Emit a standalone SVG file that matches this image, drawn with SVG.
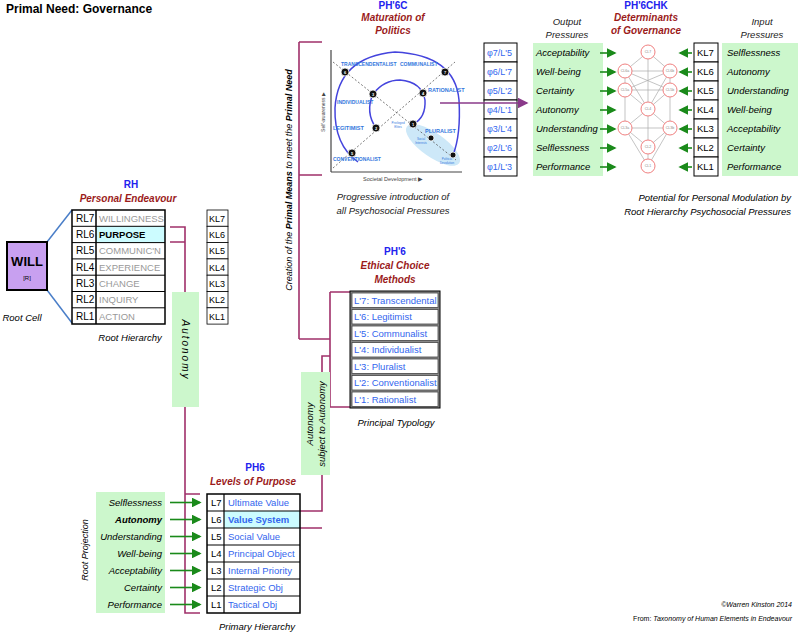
<svg xmlns="http://www.w3.org/2000/svg" width="800" height="639" viewBox="0 0 800 639">
<style>
text{font-family:"Liberation Sans","Noto Sans",sans-serif;}
.t{font-size:10px;fill:#000}
.it{font-size:9.5px;font-style:italic;fill:#000}
.ttl{font-size:10px;font-weight:bold;fill:#2222ee;text-anchor:middle}
.sub{font-size:10px;font-weight:bold;font-style:italic;fill:#9b1b1b;text-anchor:middle}
.cap{font-size:9.5px;font-style:italic;fill:#222;text-anchor:middle}
.grey{font-size:9.5px;fill:#999}
.blue{font-size:9.5px;fill:#3366ee}
.grn{fill:#ccf7cc}
.br{fill:none;stroke:#a0306a;stroke-width:1.6}
.ga{stroke:#1a8a1a;stroke-width:1.6;marker-end:url(#ag)}
.cl{fill:#fff;stroke:#f08080;stroke-width:1}
.cll{font-size:3.5px;fill:#888;text-anchor:middle}
.lat{stroke:#aaa;stroke-width:0.7}
.cb{font-size:5px;fill:#3377dd;font-weight:bold}
</style>
<defs>
<marker id="ag" markerWidth="6" markerHeight="6" refX="5" refY="3" orient="auto"><path d="M0,0 L6,3 L0,6 z" fill="#1a8a1a"/></marker>
<marker id="ap" markerWidth="7" markerHeight="7" refX="6" refY="3.5" orient="auto"><path d="M0,0 L7,3.5 L0,7 z" fill="#8a3a8a"/></marker>
</defs>
<text x="6" y="13" style="font-size:12px;font-weight:bold">Primal Need: Governance</text>

<g id="connectors">
<line x1="47" y1="242" x2="72" y2="210" stroke="#4a7ec8" stroke-width="1.5"/>
<line x1="47" y1="290" x2="72" y2="323" stroke="#4a7ec8" stroke-width="1.5"/>
<path class="br" d="M170,227 H185 V292 M170,242 H185 M185,407 V613 H200 M185,494 H200"/>
<path class="br" d="M300,511 H322 V475 M300,528 H322 M322,372 V356 H330 M330,292 H350 M330,292 V407 H350 M299,339 H330 M299,42 H322 M299,175 H322 M299,42 V339"/>
</g>

<g id="will">
<rect x="7" y="242" width="40" height="48" fill="#c8a0f0" stroke="#000" stroke-width="2"/>
<text x="27" y="266" style="font-size:13px;font-weight:bold" text-anchor="middle">WILL</text>
<text x="27" y="280" style="font-size:6px" text-anchor="middle">[R]</text>
<text x="22" y="321" class="it" text-anchor="middle">Root Cell</text>
</g>

<g id="rh">
<text x="131" y="188" class="ttl">RH</text>
<text x="128" y="202" class="sub">Personal Endeavour</text>
<rect x="96" y="226.3" width="69" height="16.3" fill="#ccfcff"/>
<g fill="none" stroke="#000">
<rect x="72" y="210" width="93" height="114" stroke-width="1.5"/>
<line x1="96" y1="210" x2="96" y2="324" stroke-width="1.5"/>
<path d="M72,226.3H165M72,242.6H165M72,258.9H165M72,275.2H165M72,291.5H165M72,307.8H165"/>
</g>
<g class="t"><text x="76" y="222">RL7</text><text x="76" y="238">RL6</text><text x="76" y="254">RL5</text><text x="76" y="271">RL4</text><text x="76" y="287">RL3</text><text x="76" y="303">RL2</text><text x="76" y="320">RL1</text></g>
<text x="99" y="222" class="grey">WILLINGNESS</text>
<text x="99" y="238" style="font-size:9.5px;font-weight:bold">PURPOSE</text>
<text x="99" y="254" class="grey">COMMUNIC'N</text>
<text x="99" y="271" class="grey">EXPERIENCE</text>
<text x="99" y="287" class="grey">CHANGE</text>
<text x="99" y="303" class="grey">INQUIRY</text>
<text x="99" y="320" class="grey">ACTION</text>
<text x="130" y="341" class="it" text-anchor="middle">Root Hierarchy</text>
</g>

<g id="kl-left">
<g fill="#fff" stroke="#000" stroke-width="0.8">
<rect x="207" y="210" width="21" height="16.3"/><rect x="207" y="226.3" width="21" height="16.3"/><rect x="207" y="242.6" width="21" height="16.3"/><rect x="207" y="258.9" width="21" height="16.3"/><rect x="207" y="275.2" width="21" height="16.3"/><rect x="207" y="291.5" width="21" height="16.3"/><rect x="207" y="307.8" width="21" height="16.3"/>
</g>
<g class="t" style="font-size:9px"><text x="209" y="222">KL7</text><text x="209" y="238">KL6</text><text x="209" y="254">KL5</text><text x="209" y="271">KL4</text><text x="209" y="287">KL3</text><text x="209" y="303">KL2</text><text x="209" y="320">KL1</text></g>
</g>

<g id="autonomy">
<rect x="172" y="292" width="27" height="115" class="grn"/>
<text transform="translate(182,350) rotate(90)" text-anchor="middle" style="font-size:10px;font-style:italic;letter-spacing:2px">Autonomy</text>
</g>

<g id="ph6">
<text x="255" y="471" class="ttl">PH6</text>
<text x="253" y="485" class="sub">Levels of Purpose</text>
<rect x="96" y="492" width="69" height="121" class="grn"/>
<g class="it" text-anchor="end"><text x="162" y="506">Selflessness</text><text x="162" y="523" style="font-weight:bold">Autonomy</text><text x="162" y="540">Understanding</text><text x="162" y="557">Well-being</text><text x="162" y="574">Acceptability</text><text x="162" y="591">Certainty</text><text x="162" y="608">Performance</text></g>
<line x1="170" y1="502.5" x2="200" y2="502.5" class="ga"/>
<line x1="170" y1="519.5" x2="200" y2="519.5" class="ga" stroke-width="2.2"/>
<line x1="170" y1="536.5" x2="200" y2="536.5" class="ga"/>
<line x1="170" y1="553.5" x2="200" y2="553.5" class="ga"/>
<line x1="170" y1="570.5" x2="200" y2="570.5" class="ga"/>
<line x1="170" y1="587.5" x2="200" y2="587.5" class="ga"/>
<line x1="170" y1="604.5" x2="200" y2="604.5" class="ga"/>
<text transform="translate(88,550) rotate(-90)" text-anchor="middle" class="it" style="font-size:9px">Root Projection</text>
<rect x="224" y="511" width="76" height="17" fill="#ccfcff"/>
<g fill="none" stroke="#000">
<rect x="207" y="494" width="93" height="119" stroke-width="1.5"/>
<line x1="224" y1="494" x2="224" y2="613" stroke-width="1.2"/>
<path d="M207,511H300M207,528H300M207,545H300M207,562H300M207,579H300M207,596H300"/>
</g>
<g class="t" style="font-size:9.5px"><text x="211" y="506">L7</text><text x="211" y="523">L6</text><text x="211" y="540">L5</text><text x="211" y="557">L4</text><text x="211" y="574">L3</text><text x="211" y="591">L2</text><text x="211" y="608">L1</text></g>
<g class="blue"><text x="228" y="506">Ultimate Value</text><text x="228" y="523" style="font-weight:bold">Value System</text><text x="228" y="540">Social Value</text><text x="228" y="557">Principal Object</text><text x="228" y="574">Internal Priority</text><text x="228" y="591">Strategic Obj</text><text x="228" y="608">Tactical Obj</text></g>
<text x="257" y="630" class="it" text-anchor="middle">Primary Hierarchy</text>
</g>

<g id="autonomy2">
<rect x="301" y="372" width="29" height="103" class="grn"/>
<text transform="translate(313,424) rotate(-90)" text-anchor="middle" style="font-size:9.5px;font-style:italic">Autonomy</text>
<text transform="translate(325,424) rotate(-90)" text-anchor="middle" style="font-size:9.5px;font-style:italic">subject to Autonomy</text>
</g>

<text transform="translate(292,180) rotate(-90)" text-anchor="middle" style="font-size:9px;font-style:italic">Creation of the <tspan font-weight="bold">Primal Means</tspan> to meet the <tspan font-weight="bold">Primal Need</tspan></text>

<g id="ph6prime">
<text x="395" y="255" class="ttl">PH'6</text>
<text x="395" y="269" class="sub">Ethical Choice</text>
<text x="395" y="283" class="sub">Methods</text>
<rect x="350" y="291" width="90" height="117" fill="#888" stroke="#000"/>
<g fill="#fff" stroke="#444" stroke-width="0.8">
<rect x="352" y="293" width="86" height="14.5"/><rect x="352" y="309.5" width="86" height="14.5"/><rect x="352" y="326" width="86" height="14.5"/><rect x="352" y="342.5" width="86" height="14.5"/><rect x="352" y="359" width="86" height="14.5"/><rect x="352" y="375.5" width="86" height="14.5"/><rect x="352" y="392" width="86" height="14.5"/>
</g>
<g class="blue" style="font-size:9.5px"><text x="354" y="304">L'7: Transcendental</text><text x="354" y="320">L'6: Legitimist</text><text x="354" y="337">L'5: Communalist</text><text x="354" y="353">L'4: Individualist</text><text x="354" y="370">L'3: Pluralist</text><text x="354" y="386">L'2: Conventionalist</text><text x="354" y="403">L'1: Rationalist</text></g>
<text x="396" y="426" class="it" text-anchor="middle">Principal Typology</text>
</g>

<g id="ph6c">
<text x="393" y="9" class="ttl">PH'6C</text>
<text x="393" y="21" class="sub">Maturation of</text>
<text x="393" y="34" class="sub">Politics</text>
<ellipse cx="433" cy="145" rx="32" ry="12" transform="rotate(35 433 145)" fill="#cde8f8"/>
<line x1="331" y1="50" x2="331" y2="172" stroke="#444" stroke-width="1.2"/>
<line x1="331" y1="172" x2="462" y2="172" stroke="#444" stroke-width="1.2"/>
<path d="M358,162 Q334,145 335,108 Q338,57 395,52 Q455,55 459,100 Q461,135 453,155" fill="none" stroke="#4444dd" stroke-width="1.5"/>
<path d="M376,128 Q365,112 373,94 Q384,80 400,80 Q422,82 425,100 Q426,118 413,124" fill="none" stroke="#4444dd" stroke-width="1.5"/>
<line x1="333" y1="168" x2="455" y2="62" stroke="#555" stroke-dasharray="2,2" stroke-width="0.8"/>
<line x1="333" y1="62" x2="456" y2="160" stroke="#555" stroke-dasharray="2,2" stroke-width="0.8"/>
<g fill="#111" stroke="#fff" stroke-width="0.8">
<circle cx="345" cy="72" r="4"/><circle cx="445" cy="72" r="4"/><circle cx="373" cy="94" r="4"/><circle cx="423" cy="93" r="4"/><circle cx="376" cy="128" r="4"/><circle cx="413" cy="124" r="4"/><circle cx="352" cy="153" r="4"/><circle cx="431" cy="138" r="3"/><circle cx="453" cy="155" r="3"/>
</g>
<g font-size="4" fill="#fff" text-anchor="middle" font-weight="bold"><text x="345" y="73.5">6</text><text x="445" y="73.5">7</text><text x="373" y="95.5">3</text><text x="423" y="94.5">4</text><text x="376" y="129.5">2</text><text x="413" y="125.5">1</text><text x="352" y="154.5">5</text></g>
<g class="cb"><text x="341" y="66">TRANSCENDENTALIST</text><text x="400" y="66">COMMUNALIST</text><text x="428" y="92" style="font-size:5.5px">RATIONALIST</text><text x="337" y="104">INDIVIDUALIST</text><text x="333" y="130" style="font-size:5.5px">LEGITIMIST</text><text x="425" y="133" style="font-size:5.5px">PLURALIST</text><text x="333" y="161">CONVENTIONALIST</text></g>
<g font-size="3" fill="#3377dd" text-anchor="middle"><text x="398" y="124">Privileged</text><text x="398" y="128">Elites</text><text x="421" y="140">Social</text><text x="421" y="144">Interests</text><text x="447" y="160">Political</text><text x="447" y="164">Devolution</text></g>
<text transform="translate(325,112) rotate(-90)" text-anchor="middle" style="font-size:5px;fill:#444">Self-awareness ▶</text>
<text x="393" y="181" text-anchor="middle" style="font-size:5.5px;fill:#444">Societal Development ▶</text>
<text x="393" y="200" class="cap">Progressive introduction of</text>
<text x="393" y="214" class="cap">all Psychosocial Pressures</text>
</g>

<g id="phi">
<g fill="#fff" stroke="#000" stroke-width="1">
<rect x="484" y="43" width="33" height="19"/><rect x="484" y="62" width="33" height="19"/><rect x="484" y="81" width="33" height="19"/><rect x="484" y="100" width="33" height="19"/><rect x="484" y="119" width="33" height="19"/><rect x="484" y="138" width="33" height="19"/><rect x="484" y="157" width="33" height="19"/>
</g>
<g class="blue" style="font-size:9px"><text x="487" y="56">φ7/L'5</text><text x="487" y="75">φ6/L'7</text><text x="487" y="94">φ5/L'2</text><text x="487" y="113">φ4/L'1</text><text x="487" y="132">φ3/L'4</text><text x="487" y="151">φ2/L'6</text><text x="487" y="170">φ1/L'3</text></g>
</g>
<line x1="440" y1="103" x2="527" y2="103" stroke="#8a3a8a" stroke-width="1.5" marker-end="url(#ap)"/>

<g id="output">
<text x="567" y="25" class="cap">Output</text>
<text x="567" y="38" class="cap">Pressures</text>
<rect x="533" y="43" width="70" height="133" class="grn"/>
<g class="it"><text x="536" y="56">Acceptability</text><text x="536" y="75">Well-being</text><text x="536" y="94">Certainty</text><text x="536" y="113">Autonomy</text><text x="536" y="132">Understanding</text><text x="536" y="151">Selflessness</text><text x="536" y="170">Performance</text></g>
<line x1="600" y1="53" x2="615" y2="53" class="ga"/><line x1="600" y1="72" x2="615" y2="72" class="ga"/><line x1="600" y1="91" x2="615" y2="91" class="ga"/><line x1="600" y1="110" x2="615" y2="110" class="ga"/><line x1="600" y1="129" x2="615" y2="129" class="ga"/><line x1="600" y1="148" x2="615" y2="148" class="ga"/><line x1="600" y1="167" x2="615" y2="167" class="ga"/>
</g>

<g id="ph6chk">
<text x="646" y="9" class="ttl">PH'6CHK</text>
<text x="646" y="21" class="sub">Determinants</text>
<text x="646" y="34" class="sub">of Governance</text>
<g class="lat">
<line x1="648" y1="52" x2="625" y2="71"/><line x1="648" y1="52" x2="670" y2="71"/><line x1="648" y1="52" x2="648" y2="109"/>
<line x1="625" y1="71" x2="670" y2="71"/><line x1="625" y1="71" x2="625" y2="90"/><line x1="670" y1="71" x2="670" y2="90"/><line x1="625" y1="71" x2="670" y2="90"/><line x1="670" y1="71" x2="625" y2="90"/>
<line x1="625" y1="90" x2="670" y2="90"/><line x1="625" y1="90" x2="648" y2="109"/><line x1="670" y1="90" x2="648" y2="109"/><line x1="625" y1="71" x2="648" y2="109"/><line x1="670" y1="71" x2="648" y2="109"/>
<line x1="648" y1="109" x2="625" y2="128"/><line x1="648" y1="109" x2="670" y2="128"/><line x1="648" y1="109" x2="648" y2="166"/>
<line x1="625" y1="90" x2="625" y2="128"/><line x1="670" y1="90" x2="670" y2="128"/>
<line x1="625" y1="128" x2="670" y2="128"/><line x1="625" y1="128" x2="648" y2="147"/><line x1="670" y1="128" x2="648" y2="147"/><line x1="625" y1="128" x2="648" y2="166"/><line x1="670" y1="128" x2="648" y2="166"/>
</g>
<g class="cl"><circle cx="648" cy="52" r="7"/><circle cx="625" cy="71" r="7"/><circle cx="670" cy="71" r="7"/><circle cx="625" cy="90" r="7"/><circle cx="670" cy="90" r="7"/><circle cx="648" cy="109" r="7"/><circle cx="625" cy="128" r="7"/><circle cx="670" cy="128" r="7"/><circle cx="648" cy="147" r="7"/><circle cx="648" cy="166" r="7"/></g>
<g class="cll"><text x="648" y="53">CL7</text><text x="625" y="72">CL6a</text><text x="670" y="72">CL6b</text><text x="625" y="91">CL5a</text><text x="670" y="91">CL5b</text><text x="648" y="110">CL4</text><text x="625" y="129">CL3a</text><text x="670" y="129">CL3b</text><text x="648" y="148">CL2</text><text x="648" y="167">CL1</text></g>
<line x1="692" y1="53" x2="680" y2="53" class="ga"/><line x1="692" y1="72" x2="680" y2="72" class="ga"/><line x1="692" y1="91" x2="680" y2="91" class="ga"/><line x1="692" y1="110" x2="680" y2="110" class="ga"/><line x1="692" y1="129" x2="680" y2="129" class="ga"/><line x1="692" y1="148" x2="680" y2="148" class="ga"/><line x1="692" y1="167" x2="680" y2="167" class="ga"/>
</g>

<g id="kl-right">
<g fill="#fff" stroke="#000" stroke-width="1">
<rect x="694" y="43" width="24" height="19"/><rect x="694" y="62" width="24" height="19"/><rect x="694" y="81" width="24" height="19"/><rect x="694" y="100" width="24" height="19"/><rect x="694" y="119" width="24" height="19"/><rect x="694" y="138" width="24" height="19"/><rect x="694" y="157" width="24" height="19"/>
</g>
<g class="t" style="font-size:9.5px"><text x="697" y="56">KL7</text><text x="697" y="75">KL6</text><text x="697" y="94">KL5</text><text x="697" y="113">KL4</text><text x="697" y="132">KL3</text><text x="697" y="151">KL2</text><text x="697" y="170">KL1</text></g>
</g>

<g id="input">
<text x="762" y="25" class="cap">Input</text>
<text x="762" y="38" class="cap">Pressures</text>
<rect x="722" y="43" width="76" height="133" class="grn"/>
<g class="it"><text x="727" y="56">Selflessness</text><text x="727" y="75">Autonomy</text><text x="727" y="94">Understanding</text><text x="727" y="113">Well-being</text><text x="727" y="132">Acceptability</text><text x="727" y="151">Certainty</text><text x="727" y="170">Performance</text></g>
<text x="791" y="201" class="it" text-anchor="end">Potential for Personal Modulation by</text>
<text x="791" y="215" class="it" text-anchor="end">Root Hierarchy Psychosocial Pressures</text>
</g>

<text x="792" y="607" text-anchor="end" style="font-size:7px;font-style:italic">©Warren Kinston 2014</text>
<text x="792" y="621" text-anchor="end" style="font-size:7px">From: <tspan font-style="italic">Taxonomy of Human Elements in Endeavour</tspan></text>
</svg>
